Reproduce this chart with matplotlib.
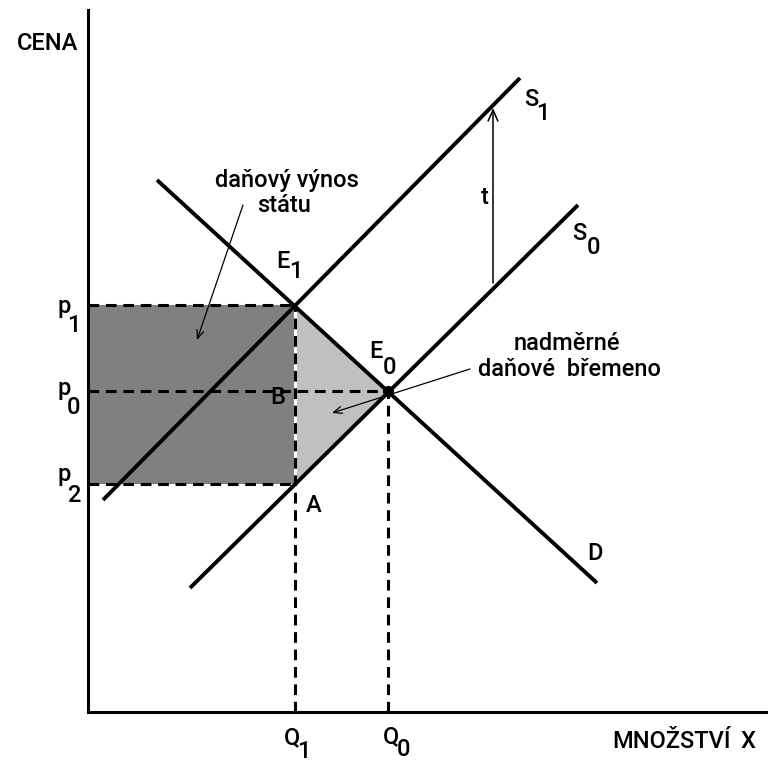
import matplotlib
matplotlib.use("Agg")
import matplotlib.pyplot as plt

plt.rcParams['font.family'] = ['Roboto', 'DejaVu Sans']
plt.rcParams['font.weight'] = 'medium'

# curve endpoints (quantity, price) in chart units
demand_q = [6.9, 50.9]
demand_p = [53.2, 12.9]
s0_q = [10.2, 49.0]
s0_p = [12.4, 50.7]
s1_q = [1.5, 43.2]
s1_p = [21.2, 63.4]

# equilibrium values
Q1, Q0 = 20.7, 30.0
p1, p0, p2 = 40.7, 32.1, 22.8

# tax arrow t (from S0 up to S1)
tax_q = 40.5
tax_from, tax_to = 42.9, 60.4

fig = plt.figure(figsize=(7.68, 7.65), dpi=100)
ax = fig.add_axes([88 / 768, 53 / 765, 680 / 768, 702 / 765])
ax.set_xlim(0, 68)
ax.set_ylim(0, 70.2)
for s in ['top', 'right']:
    ax.spines[s].set_visible(False)
for s in ['left', 'bottom']:
    ax.spines[s].set_linewidth(2.2)
ax.set_xticks([])
ax.set_yticks([])

# shaded areas: tax revenue and deadweight loss
ax.fill([0, Q1, Q1, 0], [p2, p2, p1, p1], color='#808080', lw=0, zorder=1)
ax.fill([Q1, Q0, Q1], [p1, p0, p2], color='#c0c0c0', lw=0, zorder=1)

dash = (0, (3.5, 2.2))
dlw = 2.2
ax.plot([0, Q1], [p1, p1], color='black', lw=dlw, ls=dash, zorder=2)
ax.plot([0, Q0], [p0, p0], color='black', lw=dlw, ls=dash, zorder=2)
ax.plot([0, Q1], [p2, p2], color='black', lw=dlw, ls=dash, zorder=2)
ax.plot([Q1, Q1], [p2, p1], color='white', lw=dlw, zorder=2)
ax.plot([Q1, Q1], [0, p1], color='black', lw=dlw, ls=dash, zorder=2)
ax.plot([Q0, Q0], [0, p0], color='black', lw=dlw, ls=dash, zorder=2)

# demand and supply curves
for q, p in [(demand_q, demand_p), (s0_q, s0_p), (s1_q, s1_p)]:
    ax.plot(q, p, color='black', lw=2.8, solid_capstyle='butt', zorder=3)

ax.plot([Q0], [p0], 'o', color='black', ms=7, zorder=4)

# tax arrow
ax.annotate('', xy=(tax_q, tax_to), xytext=(tax_q, tax_from),
            arrowprops=dict(arrowstyle='->,head_length=0.8,head_width=0.35',
                            color='black', lw=1.1, shrinkA=0, shrinkB=0))

fs = 17


def label(x, y, main, sub=None, dx=1.1, dy=-1.5, size=fs):
    ax.text(x, y, main, fontsize=size, ha='center', va='center', clip_on=False)
    if sub is not None:
        ax.text(x + dx, y + dy, sub, fontsize=size, ha='center', va='center', clip_on=False)


label(-4.0, 66.9, 'CENA')
ax.text(58.3, -3.0, 'MNOŽSTVÍ', fontsize=fs, ha='center', va='center')
ax.text(66.0, -3.0, 'X', fontsize=fs, ha='center', va='center')

label(20.4, -2.6, 'Q', '1', dx=1.2, dy=-1.3)
label(30.3, -2.5, 'Q', '0', dx=1.3, dy=-1.3)
label(-2.4, 40.6, 'p', '1', dx=1.0, dy=-1.9)
label(-2.4, 32.4, 'p', '0', dx=1.0, dy=-1.9)
label(-2.4, 23.7, 'p', '2', dx=1.0, dy=-2.1)

label(19.5, 45.1, 'E', '1', dx=1.3, dy=-1.0)
label(28.8, 36.1, 'E', '0', dx=1.4, dy=-1.6)
label(19.0, 31.5, 'B')
label(22.6, 20.7, 'A')
label(44.3, 61.2, 'S', '1', dx=1.2, dy=-1.4)
label(49.1, 47.8, 'S', '0', dx=1.4, dy=-1.4)
label(50.7, 15.9, 'D')
label(39.7, 51.5, 't')

ax.text(19.9, 53.2, 'daňový výnos', fontsize=fs, ha='center', va='center')
ax.text(19.6, 50.6, 'státu', fontsize=fs, ha='center', va='center')
ax.annotate('', xy=(10.9, 37.2), xytext=(15.5, 50.7),
            arrowprops=dict(arrowstyle='->,head_length=0.6,head_width=0.25',
                            color='black', lw=0.9, shrinkA=0, shrinkB=0), zorder=5)

ax.text(47.9, 36.9, 'nadměrné', fontsize=fs, ha='center', va='center')
ax.text(48.2, 34.2, 'daňové  břemeno', fontsize=fs, ha='center', va='center')
ax.annotate('', xy=(24.4, 29.9), xytext=(38.2, 34.3),
            arrowprops=dict(arrowstyle='->,head_length=0.6,head_width=0.25',
                            color='black', lw=0.9, shrinkA=0, shrinkB=0), zorder=5)

fig.savefig('out.png', dpi=100)
